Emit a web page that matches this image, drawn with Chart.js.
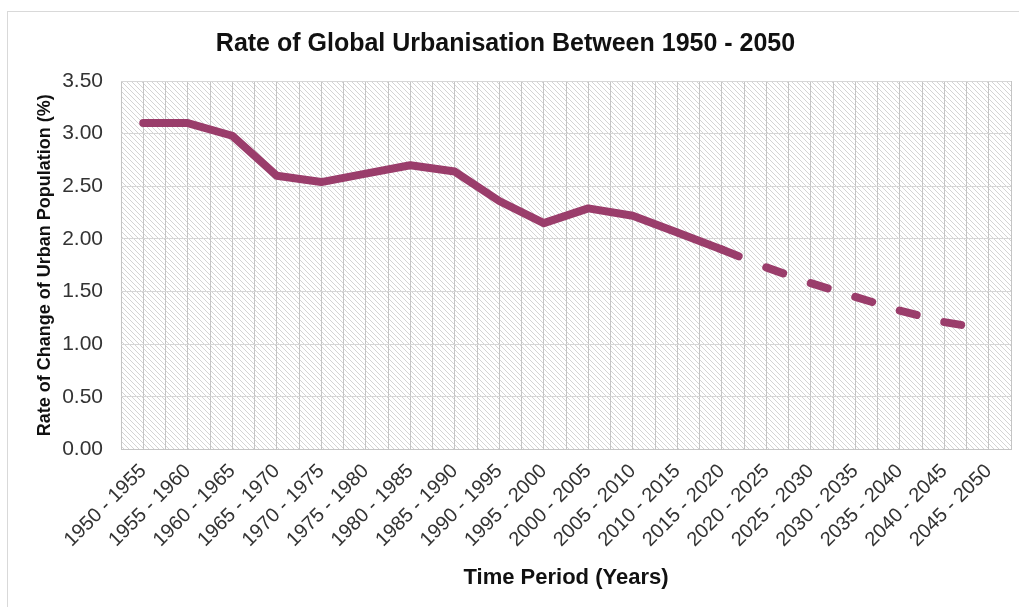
<!DOCTYPE html>
<html>
<head>
<meta charset="utf-8">
<script src="https://cdn.jsdelivr.net/npm/chart.js@4"></script>
<style>
  html, body { margin: 0; padding: 0; background: #fff; }
  #frame { position: absolute; left: 7px; top: 11px; width: 1100px; height: 700px;
           border-left: 1px solid #d9d9d9; border-top: 1px solid #d9d9d9; }
  #chart { position: absolute; left: 0; top: 0; }
</style>
</head>
<body>
<div id="frame"></div>
<canvas id="chart" width="1019" height="607"></canvas>
<script>
"use strict"

var periods = [
    '1950 - 1955', '1955 - 1960', '1960 - 1965', '1965 - 1970', '1970 - 1975',
    '1975 - 1980', '1980 - 1985', '1985 - 1990', '1990 - 1995', '1995 - 2000',
    '2000 - 2005', '2005 - 2010', '2010 - 2015', '2015 - 2020', '2020 - 2025',
    '2025 - 2030', '2030 - 2035', '2035 - 2040', '2040 - 2045', '2045 - 2050'
]
var rates = [
    3.10, 3.10, 2.98, 2.60, 2.54, 2.62, 2.70, 2.64, 2.36, 2.15,
    2.29, 2.22, 2.06, 1.90, 1.73, 1.58, 1.45, 1.32, 1.21, 1.14
]
// projections start after this index
var lastObserved = 13
var yTicks = [0, 0.5, 1, 1.5, 2, 2.5, 3, 3.5]

var font = 'Liberation Sans, Arial, sans-serif'
var lineColor = '#9a3d6b'

// diagonal hatch for the plot background
function makeHatch(ctx) {
    var c = document.createElement('canvas')
    c.width = 5
    c.height = 5
    var g = c.getContext('2d')
    g.strokeStyle = '#d4d4d4'
    g.lineWidth = 1
    g.beginPath()
    g.moveTo(0, 0); g.lineTo(5, 5)
    g.moveTo(-1, 4); g.lineTo(1, 6)
    g.moveTo(4, -1); g.lineTo(6, 1)
    g.stroke()
    return ctx.createPattern(c, 'repeat')
}

var hatchBackground = {
    id: 'hatchBackground',
    beforeDraw: function (chart) {
        var a = chart.chartArea
        var ctx = chart.ctx
        ctx.save()
        ctx.fillStyle = makeHatch(ctx)
        ctx.fillRect(a.left, a.top, a.right - a.left, a.bottom - a.top)
        ctx.restore()
    }
}

// each projected segment gets one dash that starts at its first point
function projectionDash(s) {
    if (s.p0DataIndex < lastObserved) return []
    var len = Math.hypot(s.p1.x - s.p0.x, s.p1.y - s.p0.y)
    var dash = len * 0.38
    return [dash, len - dash + 0.01]
}

var ctx = document.getElementById('chart').getContext('2d')
var chartUrban = new Chart(ctx, {
    type: 'line',
    data: {
        labels: periods,
        datasets: [{
            data: rates,
            xAxisID: 'x',
            borderColor: lineColor,
            borderWidth: 8,
            borderCapStyle: 'round',
            borderJoinStyle: 'round',
            pointRadius: 0,
            tension: 0,
            segment: { borderDash: projectionDash }
        }]
    },
    options: {
        responsive: false,
        animation: false,
        layout: { padding: { left: 0, right: 8, top: 0, bottom: 0 } },
        plugins: {
            legend: { display: false },
            tooltip: { enabled: false },
            title: {
                display: true,
                text: 'Rate of Global Urbanisation Between 1950 - 2050',
                color: '#111',
                font: { family: font, size: 25, weight: 'bold' },
                padding: { top: 29, bottom: 22 }
            }
        },
        scales: {
            x: {
                type: 'category',
                position: 'bottom',
                offset: true,
                grid: { offset: true, color: '#c4c4c4', drawTicks: false },
                border: { color: '#c4c4c4' },
                ticks: {
                    autoSkip: false,
                    maxRotation: 45,
                    minRotation: 45,
                    padding: 10,
                    color: '#333',
                    font: { family: font, size: 20 }
                },
                title: {
                    display: true,
                    text: 'Time Period (Years)',
                    color: '#111',
                    font: { family: font, size: 22, weight: 'bold' },
                    padding: { top: 0, bottom: 16 }
                },
                afterFit: function (s) { s.height = 157.5 }
            },
            x2: {
                type: 'category',
                position: 'top',
                offset: true,
                grid: { offset: false, color: '#c4c4c4', drawTicks: false },
                border: { display: false },
                ticks: { display: false },
                afterFit: function (s) { s.height = 0 }
            },
            y: {
                min: 0,
                max: 3.5,
                afterBuildTicks: function (s) {
                    s.ticks = yTicks.map(function (v) { return { value: v } })
                },
                grid: { color: '#d6d6d6', drawTicks: false },
                border: { display: false },
                ticks: {
                    padding: 18,
                    color: '#333',
                    font: { family: font, size: 21 },
                    callback: function (v) { return v.toFixed(2) }
                },
                title: {
                    display: true,
                    text: 'Rate of Change of Urban Population (%)',
                    color: '#111',
                    font: { family: font, size: 18, weight: 'bold' },
                    padding: { top: 34, bottom: 0 }
                },
                afterFit: function (s) { s.width = 121 }
            }
        }
    },
    plugins: [hatchBackground]
})
</script>
</body>
</html>
